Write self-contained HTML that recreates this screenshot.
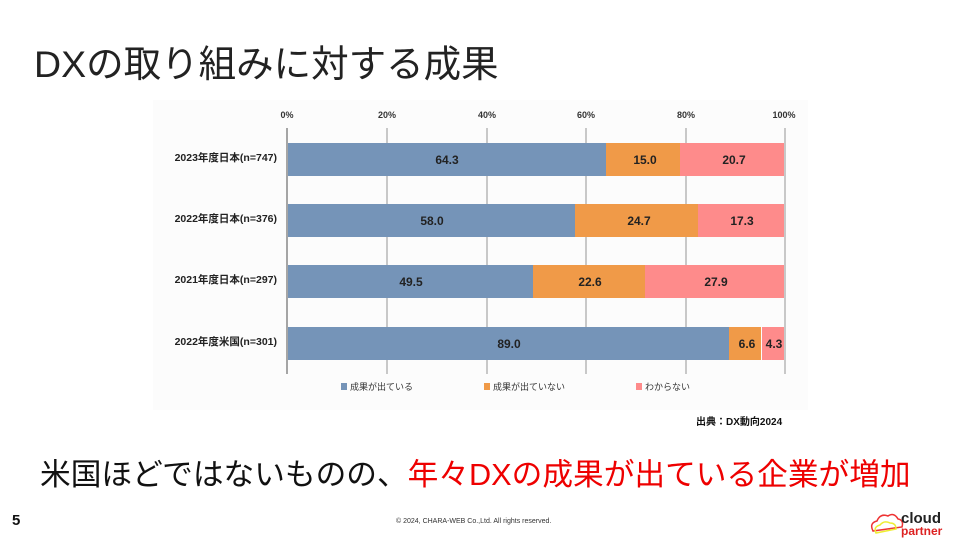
<!DOCTYPE html>
<html><head><meta charset="utf-8"><style>
body{margin:0;width:960px;height:540px;background:#fff;position:relative;overflow:hidden;font-family:"Liberation Sans","Noto Sans CJK JP",sans-serif}
.a{position:absolute;white-space:nowrap}
</style></head><body>
<div class="a" style="left:34px;top:33px;font-size:37.5px;color:#222">DXの取り組みに対する成果</div>
<svg class="a" style="left:0;top:0" width="960" height="540">
<rect x="153" y="100" width="655" height="310" fill="#fcfcfc"/>
<g font-family="Liberation Sans,Noto Sans CJK JP,sans-serif" font-size="9" font-weight="bold" fill="#333" text-anchor="middle">
<text x="287" y="118">0%</text><text x="387" y="118">20%</text><text x="487" y="118">40%</text><text x="586" y="118">60%</text><text x="686" y="118">80%</text><text x="784" y="118">100%</text>
</g>
<g stroke="#c8c8c8" stroke-width="2">
<line x1="387" y1="128" x2="387" y2="374"/><line x1="487" y1="128" x2="487" y2="374"/><line x1="586" y1="128" x2="586" y2="374"/><line x1="686" y1="128" x2="686" y2="374"/><line x1="785" y1="128" x2="785" y2="374"/>
</g>
<line x1="287" y1="128" x2="287" y2="374" stroke="#888" stroke-width="1.5"/>
<g>
<rect x="288" y="143" width="318" height="33" fill="#7594b8"/><rect x="606" y="143" width="74" height="33" fill="#f09a48"/><rect x="680" y="143" width="104" height="33" fill="#fe8b8b"/>
<rect x="288" y="204" width="287" height="33" fill="#7594b8"/><rect x="575" y="204" width="123" height="33" fill="#f09a48"/><rect x="698" y="204" width="86" height="33" fill="#fe8b8b"/>
<rect x="288" y="265" width="245" height="33" fill="#7594b8"/><rect x="533" y="265" width="112" height="33" fill="#f09a48"/><rect x="645" y="265" width="139" height="33" fill="#fe8b8b"/>
<rect x="288" y="327" width="441" height="33" fill="#7594b8"/><rect x="729" y="327" width="32" height="33" fill="#f09a48"/><rect x="762" y="327" width="22" height="33" fill="#fe8b8b"/>
</g>
<g font-family="Liberation Sans,sans-serif" font-size="12" font-weight="bold" fill="#222" text-anchor="middle">
<text x="447" y="164">64.3</text><text x="645" y="164">15.0</text><text x="734" y="164">20.7</text>
<text x="432" y="225">58.0</text><text x="639" y="225">24.7</text><text x="742" y="225">17.3</text>
<text x="411" y="286">49.5</text><text x="590" y="286">22.6</text><text x="716" y="286">27.9</text>
<text x="509" y="348">89.0</text><text x="747" y="348">6.6</text><text x="774" y="348">4.3</text>
</g>
<g font-family="Liberation Sans,Noto Sans CJK JP,sans-serif" font-size="10.5" font-weight="bold" fill="#222" text-anchor="end">
<text x="277" y="161">2023年度日本(n=747)</text><text x="277" y="222">2022年度日本(n=376)</text><text x="277" y="283">2021年度日本(n=297)</text><text x="277" y="345">2022年度米国(n=301)</text>
</g>
<g font-family="Liberation Sans,Noto Sans CJK JP,sans-serif" font-size="9" fill="#333">
<rect x="341" y="383" width="6" height="7" fill="#7594b8"/><text x="350" y="390">成果が出ている</text>
<rect x="484" y="383" width="6" height="7" fill="#f09a48"/><text x="493" y="390">成果が出ていない</text>
<rect x="636" y="383" width="6" height="7" fill="#fe8b8b"/><text x="645" y="390">わからない</text>
</g>
<text x="696" y="425" font-family="Liberation Sans,Noto Sans CJK JP,sans-serif" font-size="10" font-weight="bold" fill="#111">出典：DX動向2024</text>
<path d="M873 531 q-4 -8 4 -10 q3 -8 11 -5 q6 -4 10 3 q6 1 4 8 z" fill="none" stroke="#e33" stroke-width="1.5"/>
<path d="M876 533 q-3 -6 4 -8 q4 -5 10 -2 q6 0 6 6 z" fill="none" stroke="#ee3" stroke-width="1.5"/>
</svg>
<div class="a" style="left:40px;top:449px;font-size:30.7px;color:#111">米国ほどではないものの、<span style="color:#e00">年々DXの成果が出ている企業が増加</span></div>
<div class="a" style="left:12px;top:512px;font-size:15px;font-weight:bold;color:#111">5</div>
<div class="a" style="left:396px;top:518px;font-size:7px;color:#333">© 2024, CHARA-WEB Co.,Ltd. All rights reserved.</div>
<div class="a" style="left:901px;top:511px;font-size:15px;font-weight:bold;color:#222;line-height:15px">cloud</div>
<div class="a" style="left:901px;top:525px;font-size:12px;font-weight:bold;color:#d22;line-height:12px">partner</div>
</body></html>
